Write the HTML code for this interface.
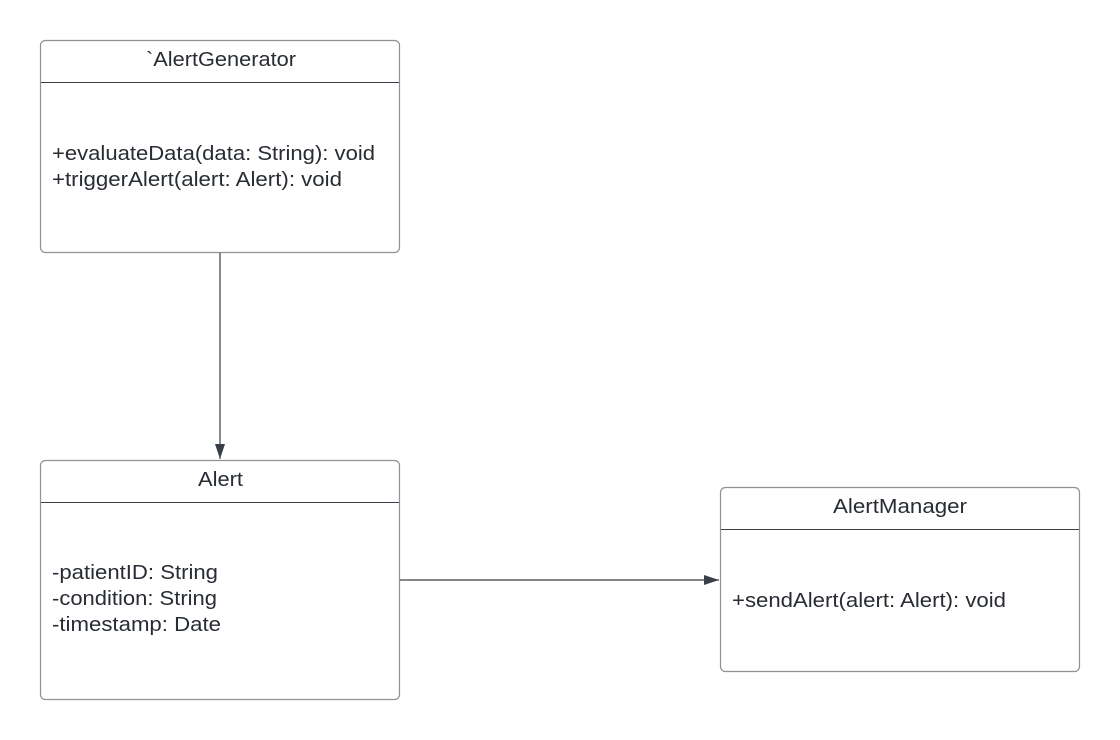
<!DOCTYPE html>
<html><head><meta charset="utf-8"><style>
html,body{margin:0;padding:0;background:#fff;}
svg{display:block;}
text{font-family:"Liberation Sans",Arial,sans-serif;font-size:20px;fill:#282c33;}
</style></head><body>
<svg width="1120" height="740" viewBox="0 0 1120 740" xmlns="http://www.w3.org/2000/svg">
<defs>
<marker id="ah" markerWidth="16" markerHeight="10" refX="15" refY="5" orient="auto" markerUnits="userSpaceOnUse">
<path d="M0,0 L15,5 L0,10 Z" fill="#3a3e47"/>
</marker>
</defs>
<!-- AlertGenerator -->
<rect x="40.5" y="40.5" width="359" height="212" rx="5" fill="#fff" stroke="#8f9196" stroke-width="1.2"/>
<line x1="41" y1="82.5" x2="399" y2="82.5" stroke="#3a3e47" stroke-width="1"/>
<text x="146" y="66" textLength="150" lengthAdjust="spacingAndGlyphs">`AlertGenerator</text>
<text x="52" y="160" textLength="323" lengthAdjust="spacingAndGlyphs">+evaluateData(data: String): void</text>
<text x="52" y="186" textLength="290" lengthAdjust="spacingAndGlyphs">+triggerAlert(alert: Alert): void</text>
<!-- Alert -->
<rect x="40.5" y="460.5" width="359" height="239" rx="5" fill="#fff" stroke="#8f9196" stroke-width="1.2"/>
<line x1="41" y1="502.5" x2="399" y2="502.5" stroke="#3a3e47" stroke-width="1"/>
<text x="198" y="486" textLength="45" lengthAdjust="spacingAndGlyphs">Alert</text>
<text x="52" y="579" textLength="166" lengthAdjust="spacingAndGlyphs">-patientID: String</text>
<text x="52" y="605" textLength="165" lengthAdjust="spacingAndGlyphs">-condition: String</text>
<text x="52" y="631" textLength="169" lengthAdjust="spacingAndGlyphs">-timestamp: Date</text>
<!-- AlertManager -->
<rect x="720.5" y="487.5" width="359" height="184" rx="5" fill="#fff" stroke="#8f9196" stroke-width="1.2"/>
<line x1="721" y1="529.5" x2="1079" y2="529.5" stroke="#3a3e47" stroke-width="1"/>
<text x="833" y="513" textLength="134" lengthAdjust="spacingAndGlyphs">AlertManager</text>
<text x="732" y="607" textLength="274" lengthAdjust="spacingAndGlyphs">+sendAlert(alert: Alert): void</text>
<!-- connectors -->
<line x1="220" y1="253" x2="220" y2="459" stroke="#3a3e47" stroke-width="1.2" marker-end="url(#ah)"/>
<line x1="400" y1="580" x2="719" y2="580" stroke="#3a3e47" stroke-width="1.2" marker-end="url(#ah)"/>
</svg>
</body></html>
